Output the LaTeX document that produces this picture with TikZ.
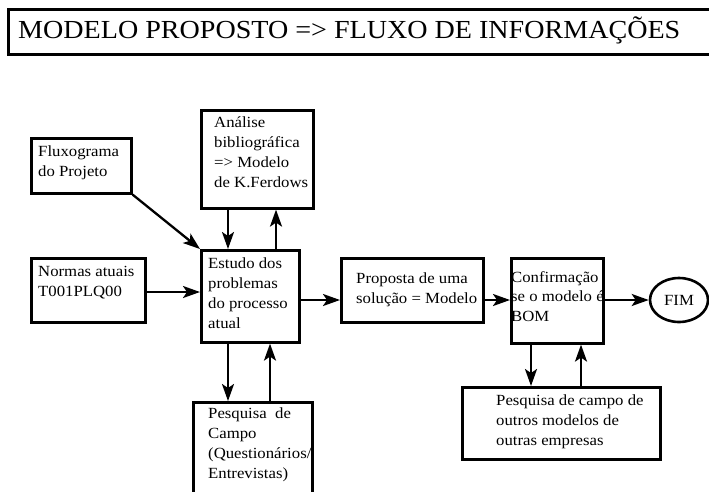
\documentclass[tikz,border=0pt]{standalone}
\usepackage{fontspec}
\setmainfont{Liberation Serif}
\newfontfamily\bodyfont[FakeStretch=1.08]{Liberation Serif}
\usetikzlibrary{arrows.meta,shapes.geometric}
\begin{document}
\begin{tikzpicture}[x=1pt,y=-1pt,
  box/.style={draw,line width=2.6pt,inner sep=0pt,anchor=north west},
  txt/.style={anchor=north west,inner sep=0pt,align=left,font=\bodyfont\fontsize{15.5}{19.8}\selectfont},
  arr/.style={line width=2.3pt,-{Stealth[length=17pt,width=12pt,inset=4pt]}}]
\useasboundingbox (0,0) rectangle (709,491);
% title
\node[box,minimum width=720pt,minimum height=45pt] (title) at (7,8) {};
\node[anchor=base west,inner sep=0pt,font=\bodyfont\fontsize{26}{30}\selectfont] (ttl) at (18,38) {MODELO PROPOSTO => FLUXO DE INFORMAÇÕES};
% boxes
\node[box,minimum width=100pt,minimum height=55pt] (flux) at (30,137) {};
\node[box,minimum width=112pt,minimum height=98pt] (anal) at (200,109) {};
\node[box,minimum width=114pt,minimum height=64pt] (norm) at (30,257) {};
\node[box,minimum width=98pt,minimum height=92pt] (est) at (200,249) {};
\node[box,minimum width=142pt,minimum height=64pt] (prop) at (340,257) {};
\node[box,minimum width=92pt,minimum height=85pt] (conf) at (510,257) {};
\node[draw,line width=2.6pt,ellipse,minimum width=58pt,minimum height=44pt,inner sep=0pt,font=\bodyfont\fontsize{15.5}{19.8}\selectfont] (fim) at (679,300) {FIM};
\node[box,minimum width=198pt,minimum height=72pt] (pcamp) at (461,386) {};
\node[box,minimum width=119pt,minimum height=110pt] (pq) at (192,401) {};
% texts
\node[txt] (tflux) at (38,146) {Fluxograma\\do Projeto};
\node[txt] (tanal) at (214,117) {Análise\\bibliográfica\\=> Modelo\\de K.Ferdows};
\node[txt] (tnorm) at (38,266) {Normas atuais\\T001PLQ00};
\node[txt] (test) at (208,258) {Estudo dos\\problemas\\do processo\\atual};
\node[txt] (tprop) at (356,273) {Proposta de uma\\solução = Modelo};
\node[txt] (tconf) at (511,271) {Confirmação\\se o modelo é\\BOM};
\node[txt] (tpcamp) at (496,395) {Pesquisa de campo de\\outros modelos de\\outras empresas};
\node[txt] (tpq) at (208,408) {Pesquisa~~de\\Campo\\(Questionários/\\Entrevistas)};
% arrows
\draw[arr] (flux.south east) -- (est.north west);
\draw[arr] (norm.east |- 0,292) -- (est.west |- 0,292);
\draw[arr] (anal.south -| 228,0) -- (est.north -| 228,0);
\draw[arr] (est.north -| 276,0) -- (anal.south -| 276,0);
\draw[arr] (est.east |- 0,300) -- (prop.west |- 0,300);
\draw[arr] (prop.east |- 0,300) -- (conf.west |- 0,300);
\draw[arr] (conf.east |- 0,300) -- (fim.west |- 0,300);
\draw[arr] (est.south -| 228,0) -- (pq.north -| 228,0);
\draw[arr] (pq.north -| 270,0) -- (est.south -| 270,0);
\draw[arr] (conf.south -| 531,0) -- (pcamp.north -| 531,0);
\draw[arr] (pcamp.north -| 581,0) -- (conf.south -| 581,0);
\end{tikzpicture}
\end{document}
